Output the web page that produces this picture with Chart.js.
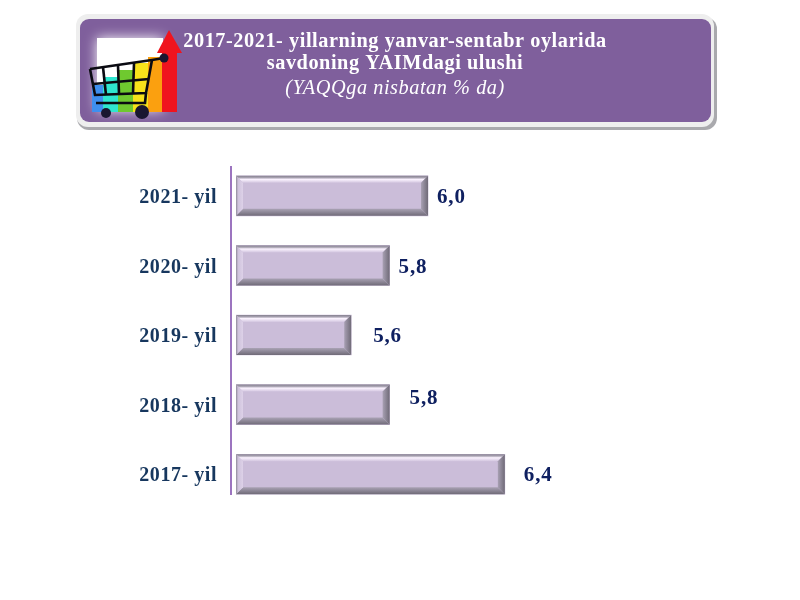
<!DOCTYPE html>
<html>
<head>
<meta charset="utf-8">
<style>
html,body{margin:0;padding:0;background:#fff}
#wrap{position:absolute;left:0;top:0;width:790px;height:600px}
</style>
<script src="https://cdn.jsdelivr.net/npm/chart.js@4"></script>
</head>
<body>
<div id="wrap"><canvas id="c" width="790" height="600"></canvas></div>
<script>
const categories = ["2021- yil","2020- yil","2019- yil","2018- yil","2017- yil"];
const values = [6.0,5.8,5.6,5.8,6.4];
const valueLabels = ["6,0","5,8","5,6","5,8","6,4"];
const titleLines = ["2017-2021- yillarning yanvar-sentabr oylarida","savdoning YAIMdagi ulushi"];
const subtitleLine = "(YAQQga nisbatan % da)";
const labelNudgeX = [9,9,22,20,19];
const labelNudgeY = [2,2,2,-6,1];

function rr(ctx,x,y,w,h,r){ctx.beginPath();ctx.roundRect(x,y,w,h,r);}

const headerPlugin = {
  id:'header',
  beforeDraw(chart){
    const ctx = chart.ctx;
    ctx.save();
    ctx.fillStyle='#fff';ctx.fillRect(0,0,chart.width,chart.height);
    // frame
    ctx.fillStyle='#a9a9ad';rr(ctx,77,17,640,113,12);ctx.fill();
    ctx.fillStyle='#eeeeee';rr(ctx,76,14,638,113,12);ctx.fill();
    ctx.fillStyle='#7F5F9C';rr(ctx,80,19,631,103,9);ctx.fill();
    // icon glow
    ctx.shadowColor='#ffffff';ctx.shadowBlur=12;
    ctx.fillStyle='#fff';ctx.fillRect(97,38,66,72);
    ctx.shadowBlur=0;
    // icon bars
    [[92,85,11,27,'#3E8FEF'],[103,77,15,35,'#2FE6CF'],[118,70,15,42,'#6FC92F'],[133,63,15,49,'#F7E21B'],[148,57,14,55,'#FBA00F'],[162,53,15,59,'#F0141E']]
      .forEach(b=>{ctx.fillStyle=b[4];ctx.fillRect(b[0],b[1],b[2],b[3]);});
    ctx.fillStyle='#F0141E';
    ctx.beginPath();ctx.moveTo(169,30);ctx.lineTo(182,53);ctx.lineTo(157,53);ctx.closePath();ctx.fill();
    // cart
    ctx.strokeStyle='#0b0b12';ctx.lineWidth=2.6;
    ctx.beginPath();ctx.moveTo(90,69);ctx.lineTo(152,60);ctx.lineTo(164,58);ctx.stroke();
    ctx.beginPath();ctx.moveTo(90,69);ctx.lineTo(95,95);ctx.lineTo(146,93);ctx.lineTo(152,60);ctx.stroke();
    ctx.beginPath();ctx.moveTo(93,84);ctx.lineTo(149,79);ctx.stroke();
    [[103,67,106,95],[118,65,119,94],[134,63,133,94]].forEach(s=>{ctx.beginPath();ctx.moveTo(s[0],s[1]);ctx.lineTo(s[2],s[3]);ctx.stroke();});
    ctx.beginPath();ctx.moveTo(146,93);ctx.lineTo(145,103);ctx.lineTo(96,103);ctx.stroke();
    ctx.fillStyle='#1a1630';
    [[164,58,4.5],[106,113,5],[142,112,7]].forEach(w=>{ctx.beginPath();ctx.arc(w[0],w[1],w[2],0,Math.PI*2);ctx.fill();});
    ctx.restore();
    ctx.letterSpacing='0.55px';
  }
};

const bevelPlugin = {
  id:'bevel',
  afterDatasetsDraw(chart){
    const ctx = chart.ctx;
    const area = chart.chartArea;
    ctx.save();
    // vertical axis line
    ctx.strokeStyle='#9C74BF';ctx.lineWidth=2;
    ctx.beginPath();ctx.moveTo(area.left-5,166);ctx.lineTo(area.left-5,495);ctx.stroke();
    const b=7;
    chart.getDatasetMeta(0).data.forEach((bar,i)=>{
      const l=area.left,r=bar.x,t=bar.y-bar.height/2,bm=bar.y+bar.height/2;
      const poly=(pts,fill)=>{ctx.fillStyle=fill;ctx.beginPath();pts.forEach((p,k)=>k?ctx.lineTo(p[0],p[1]):ctx.moveTo(p[0],p[1]));ctx.closePath();ctx.fill();};
      let g=ctx.createLinearGradient(0,t,0,t+b);
      g.addColorStop(0,'#85808f');g.addColorStop(.26,'#a9a3b2');g.addColorStop(.5,'#fbf3ff');g.addColorStop(1,'#d2c5df');
      poly([[l,t],[r,t],[r-b,t+b],[l+b,t+b]],g);
      g=ctx.createLinearGradient(0,bm-b,0,bm);
      g.addColorStop(0,'#a9a2b4');g.addColorStop(1,'#6f6a77');
      poly([[l,bm],[r,bm],[r-b,bm-b],[l+b,bm-b]],g);
      g=ctx.createLinearGradient(l,0,l+b,0);
      g.addColorStop(0,'#8f8a99');g.addColorStop(.3,'#cfc3dc');g.addColorStop(1,'#ddd1e8');
      poly([[l,t],[l+b,t+b],[l+b,bm-b],[l,bm]],g);
      g=ctx.createLinearGradient(r-b,0,r,0);
      g.addColorStop(0,'#a8a0b3');g.addColorStop(1,'#6f6a77');
      poly([[r,t],[r-b,t+b],[r-b,bm-b],[r,bm]],g);
      // value label
      ctx.fillStyle='#0F2060';
      ctx.font='bold 21px "Liberation Serif"';
      ctx.letterSpacing='0.8px';
      ctx.textAlign='left';ctx.textBaseline='middle';
      ctx.fillText(valueLabels[i],r+labelNudgeX[i],bar.y+labelNudgeY[i]);
    });
    ctx.restore();
  }
};

new Chart(document.getElementById('c'),{
  type:'bar',
  data:{labels:categories,datasets:[{data:values,backgroundColor:'#CBBDD9',borderWidth:0,barThickness:40}]},
  plugins:[headerPlugin,bevelPlugin],
  options:{
    indexAxis:'y',
    responsive:false,
    animation:false,
    layout:{padding:{top:0,right:0,bottom:91,left:0}},
    plugins:{
      legend:{display:false},
      tooltip:{enabled:false},
      title:{display:true,text:titleLines,color:'#ffffff',font:{family:'"Liberation Serif"',size:20.3,weight:'bold',lineHeight:1.085},padding:{top:31,bottom:0}},
      subtitle:{display:true,text:subtitleLine,color:'#ffffff',font:{family:'"Liberation Serif"',size:20.3,style:'italic',weight:'normal',lineHeight:1.085},padding:{top:3,bottom:61}}
    },
    scales:{
      x:{min:5,max:7.885,display:false},
      y:{
        grid:{display:false,drawTicks:false},
        border:{display:false},
        afterFit(s){s.width=236;},
        ticks:{color:'#17375E',padding:19,labelOffset:2,font:{family:'"Liberation Serif"',size:20,weight:'bold'}}
      }
    }
  }
});
</script>
</body>
</html>
